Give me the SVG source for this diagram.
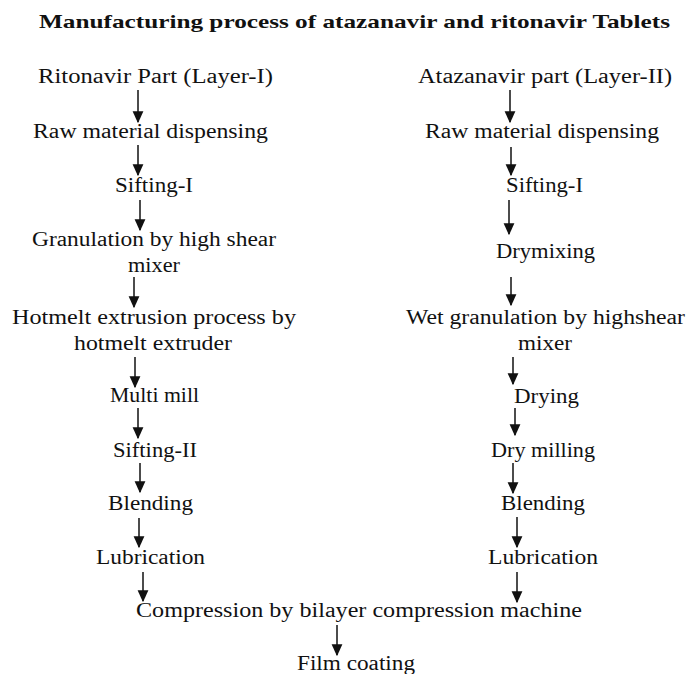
<svg xmlns="http://www.w3.org/2000/svg" width="686" height="674" viewBox="0 0 686 674">
<style>
text{font-family:"Liberation Serif","Times New Roman",serif;font-size:20.5px;fill:#111}
.title{font-weight:bold;font-size:19px}
.c{stroke:#111;stroke-width:1.5;fill:none}
</style>
<defs>
<marker id="ah" markerUnits="userSpaceOnUse" markerWidth="12" markerHeight="12" viewBox="0 0 10 10" refX="9" refY="5" orient="auto">
<path d="M0,0.5 L10,5 L0,9.5 z" fill="#111"/>
</marker>
</defs>
<rect width="686" height="674" fill="#fff"/>
<text class="title" x="39" y="28" textLength="631" lengthAdjust="spacingAndGlyphs">Manufacturing process of atazanavir and ritonavir Tablets</text>

<g id="connectors">
<line class="c" x1="138" y1="90" x2="138" y2="122" marker-end="url(#ah)"/>
<line class="c" x1="138" y1="145" x2="138" y2="175" marker-end="url(#ah)"/>
<line class="c" x1="140" y1="200" x2="140" y2="230" marker-end="url(#ah)"/>
<line class="c" x1="134" y1="277" x2="134" y2="307" marker-end="url(#ah)"/>
<line class="c" x1="135" y1="357" x2="135" y2="387" marker-end="url(#ah)"/>
<line class="c" x1="138" y1="408" x2="138" y2="438" marker-end="url(#ah)"/>
<line class="c" x1="140" y1="463" x2="140" y2="492" marker-end="url(#ah)"/>
<line class="c" x1="139" y1="518" x2="139" y2="547" marker-end="url(#ah)"/>
<line class="c" x1="143" y1="572" x2="143" y2="601" marker-end="url(#ah)"/>
<line class="c" x1="510" y1="90" x2="510" y2="122" marker-end="url(#ah)"/>
<line class="c" x1="511" y1="147" x2="511" y2="175" marker-end="url(#ah)"/>
<line class="c" x1="509" y1="200" x2="509" y2="234" marker-end="url(#ah)"/>
<line class="c" x1="511" y1="277" x2="511" y2="305" marker-end="url(#ah)"/>
<line class="c" x1="513" y1="357" x2="513" y2="384" marker-end="url(#ah)"/>
<line class="c" x1="515" y1="408" x2="515" y2="435" marker-end="url(#ah)"/>
<line class="c" x1="513" y1="463" x2="513" y2="493" marker-end="url(#ah)"/>
<line class="c" x1="517" y1="517" x2="517" y2="547" marker-end="url(#ah)"/>
<line class="c" x1="517" y1="572" x2="517" y2="602" marker-end="url(#ah)"/>
<line class="c" x1="337" y1="625" x2="337" y2="655" marker-end="url(#ah)"/>
</g>

<g id="l-ritonavir"><text x="38" y="83" textLength="235" lengthAdjust="spacingAndGlyphs">Ritonavir Part (Layer-I)</text></g>
<g id="l-raw"><text x="33" y="138" textLength="235" lengthAdjust="spacingAndGlyphs">Raw material dispensing</text></g>
<g id="l-sifting1"><text x="115" y="192" textLength="78" lengthAdjust="spacingAndGlyphs">Sifting-I</text></g>
<g id="l-granulation"><text x="32" y="246" textLength="244" lengthAdjust="spacingAndGlyphs">Granulation by high shear</text><text x="128" y="272" textLength="52" lengthAdjust="spacingAndGlyphs">mixer</text></g>
<g id="l-hotmelt"><text x="12" y="324" textLength="284" lengthAdjust="spacingAndGlyphs">Hotmelt extrusion process by</text><text x="74" y="350" textLength="158" lengthAdjust="spacingAndGlyphs">hotmelt extruder</text></g>
<g id="l-multimill"><text x="110" y="402" textLength="89" lengthAdjust="spacingAndGlyphs">Multi mill</text></g>
<g id="l-sifting2"><text x="113" y="457" textLength="84" lengthAdjust="spacingAndGlyphs">Sifting-II</text></g>
<g id="l-blending"><text x="108" y="510" textLength="85" lengthAdjust="spacingAndGlyphs">Blending</text></g>
<g id="l-lubrication"><text x="96" y="564" textLength="109" lengthAdjust="spacingAndGlyphs">Lubrication</text></g>

<g id="r-atazanavir"><text x="418" y="83" textLength="254" lengthAdjust="spacingAndGlyphs">Atazanavir part (Layer-II)</text></g>
<g id="r-raw"><text x="425" y="138" textLength="234" lengthAdjust="spacingAndGlyphs">Raw material dispensing</text></g>
<g id="r-sifting1"><text x="506" y="192" textLength="77" lengthAdjust="spacingAndGlyphs">Sifting-I</text></g>
<g id="r-drymixing"><text x="496" y="258" textLength="99" lengthAdjust="spacingAndGlyphs">Drymixing</text></g>
<g id="r-wetgran"><text x="406" y="324" textLength="279" lengthAdjust="spacingAndGlyphs">Wet granulation by highshear</text><text x="518" y="350" textLength="54" lengthAdjust="spacingAndGlyphs">mixer</text></g>
<g id="r-drying"><text x="514" y="403" textLength="65" lengthAdjust="spacingAndGlyphs">Drying</text></g>
<g id="r-drymilling"><text x="491" y="457" textLength="104" lengthAdjust="spacingAndGlyphs">Dry milling</text></g>
<g id="r-blending"><text x="501" y="510" textLength="84" lengthAdjust="spacingAndGlyphs">Blending</text></g>
<g id="r-lubrication"><text x="488" y="564" textLength="110" lengthAdjust="spacingAndGlyphs">Lubrication</text></g>

<g id="compression"><text x="136" y="617" textLength="446" lengthAdjust="spacingAndGlyphs">Compression by bilayer compression machine</text></g>
<g id="filmcoating"><text x="297" y="670" textLength="118" lengthAdjust="spacingAndGlyphs">Film coating</text></g>
</svg>
